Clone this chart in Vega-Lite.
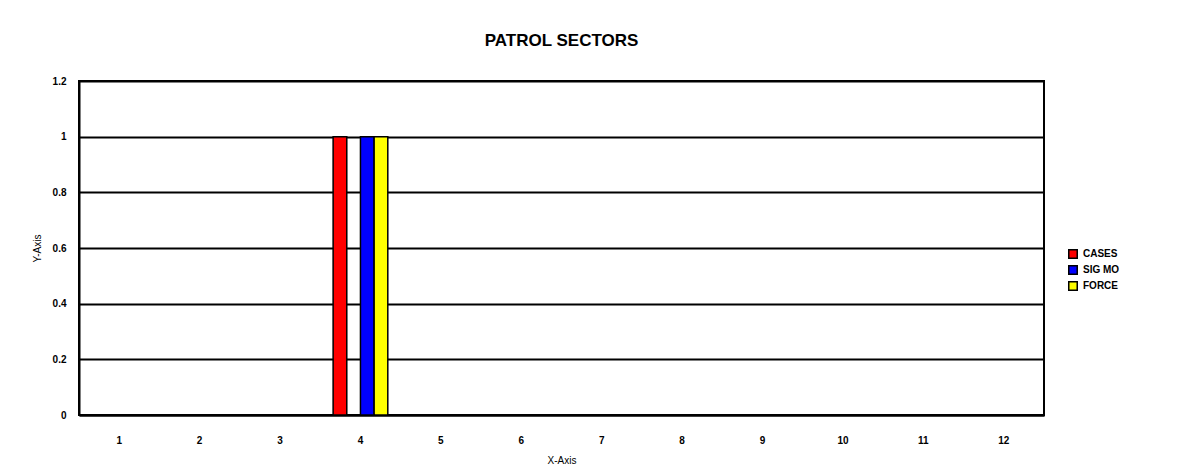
{
  "$schema": "https://vega.github.io/schema/vega-lite/v6.json",
  "width": 965,
  "height": 334,
  "autosize": {"type": "none"},
  "padding": {"left": 79, "top": 81, "right": 144, "bottom": 61},
  "background": "white",
  "config": {"view": {"stroke": "black", "strokeWidth": 2}},
  "title": {"text": "PATROL SECTORS", "font": "Liberation Sans", "fontSize": 17, "fontWeight": "bold", "color": "black", "anchor": "middle", "offset": 26},
  "data": {"values": [
    {"sector": 1, "series": "CASES", "value": 0}, {"sector": 1, "series": "SIG MO", "value": 0}, {"sector": 1, "series": "FORCE", "value": 0},
    {"sector": 2, "series": "CASES", "value": 0}, {"sector": 2, "series": "SIG MO", "value": 0}, {"sector": 2, "series": "FORCE", "value": 0},
    {"sector": 3, "series": "CASES", "value": 0}, {"sector": 3, "series": "SIG MO", "value": 0}, {"sector": 3, "series": "FORCE", "value": 0},
    {"sector": 4, "series": "CASES", "value": 1}, {"sector": 4, "series": "SIG MO", "value": 1}, {"sector": 4, "series": "FORCE", "value": 1},
    {"sector": 5, "series": "CASES", "value": 0}, {"sector": 5, "series": "SIG MO", "value": 0}, {"sector": 5, "series": "FORCE", "value": 0},
    {"sector": 6, "series": "CASES", "value": 0}, {"sector": 6, "series": "SIG MO", "value": 0}, {"sector": 6, "series": "FORCE", "value": 0},
    {"sector": 7, "series": "CASES", "value": 0}, {"sector": 7, "series": "SIG MO", "value": 0}, {"sector": 7, "series": "FORCE", "value": 0},
    {"sector": 8, "series": "CASES", "value": 0}, {"sector": 8, "series": "SIG MO", "value": 0}, {"sector": 8, "series": "FORCE", "value": 0},
    {"sector": 9, "series": "CASES", "value": 0}, {"sector": 9, "series": "SIG MO", "value": 0}, {"sector": 9, "series": "FORCE", "value": 0},
    {"sector": 10, "series": "CASES", "value": 0}, {"sector": 10, "series": "SIG MO", "value": 0}, {"sector": 10, "series": "FORCE", "value": 0},
    {"sector": 11, "series": "CASES", "value": 0}, {"sector": 11, "series": "SIG MO", "value": 0}, {"sector": 11, "series": "FORCE", "value": 0},
    {"sector": 12, "series": "CASES", "value": 0}, {"sector": 12, "series": "SIG MO", "value": 0}, {"sector": 12, "series": "FORCE", "value": 0}
  ]},
  "mark": {"type": "bar", "stroke": "black", "strokeWidth": 1.5},
  "encoding": {
    "x": {
      "field": "sector", "type": "ordinal",
      "scale": {"paddingInner": 0.32, "paddingOuter": 0.16},
      "axis": {"title": "X-Axis", "labelAngle": 0, "labelDx": 3, "ticks": false, "labelPadding": 20, "labelFont": "Liberation Sans", "labelFontSize": 10, "labelFontWeight": "bold", "labelColor": "black", "titleFont": "Liberation Sans", "titleFontSize": 10, "titleFontWeight": "normal", "titleColor": "black", "titlePadding": 10, "domainColor": "black", "domainWidth": 2, "grid": false}
    },
    "xOffset": {"field": "series", "type": "nominal", "scale": {"domain": ["CASES", "GAP", "SIG MO", "FORCE"], "paddingInner": 0, "paddingOuter": 0}},
    "y": {
      "field": "value", "type": "quantitative",
      "scale": {"domain": [0, 1.2], "nice": false},
      "axis": {"title": "Y-Axis", "values": [0, 0.2, 0.4, 0.6, 0.8, 1, 1.2], "format": "~g", "ticks": false, "labelPadding": 13, "labelFont": "Liberation Sans", "labelFontSize": 10, "labelFontWeight": "bold", "labelColor": "black", "titleFont": "Liberation Sans", "titleFontSize": 10, "titleFontWeight": "normal", "titleColor": "black", "titlePadding": 10, "domainColor": "black", "domainWidth": 2, "grid": true, "gridColor": "black", "gridWidth": 2, "gridOpacity": 1}
    },
    "color": {
      "field": "series", "type": "nominal",
      "scale": {"domain": ["CASES", "SIG MO", "FORCE"], "range": ["#ff0000", "#0000ff", "#ffff00"]},
      "legend": {"title": null, "orient": "none", "legendX": 989, "legendY": 168, "symbolType": "square", "symbolSize": 72, "symbolStrokeColor": "black", "symbolStrokeWidth": 1.5, "symbolOpacity": 1, "labelFont": "Liberation Sans", "labelFontSize": 10, "labelFontWeight": "bold", "labelColor": "black", "rowPadding": 0, "labelOffset": 5}
    }
  }
}
